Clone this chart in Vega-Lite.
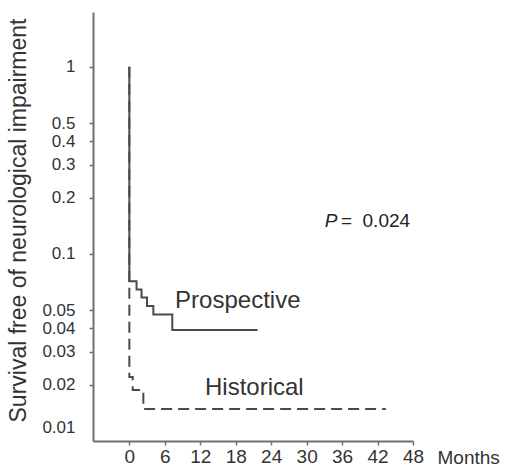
{
  "$schema": "https://vega.github.io/schema/vega-lite/v6.json",
  "width": 320,
  "height": 429,
  "autosize": {"type": "none"},
  "padding": {"left": 93, "top": 12, "right": 104, "bottom": 26},
  "background": "white",
  "config": {
    "view": {"stroke": null},
    "axis": {
      "grid": false,
      "domainColor": "#707070",
      "domainWidth": 2,
      "tickColor": "#707070",
      "tickWidth": 1.5,
      "tickSize": 4,
      "labelColor": "#333333",
      "labelFont": "Liberation Sans Narrow, Liberation Sans",
      "labelFontSize": 19,
      "titleColor": "#333333",
      "titleFont": "Liberation Sans",
      "titleFontWeight": "normal"
    }
  },
  "datasets": {
    "curves": [
      {"series": "Historical", "i": 1, "t": 0, "s": 1},
      {"series": "Historical", "i": 2, "t": 0, "s": 0.02195},
      {"series": "Historical", "i": 3, "t": 0.57, "s": 0.01873},
      {"series": "Historical", "i": 4, "t": 2.37, "s": 0.01484},
      {"series": "Historical", "i": 5, "t": 43.4, "s": 0.01484},
      {"series": "Prospective", "i": 1, "t": 0, "s": 1},
      {"series": "Prospective", "i": 2, "t": 0, "s": 0.0713},
      {"series": "Prospective", "i": 3, "t": 1.22, "s": 0.0644},
      {"series": "Prospective", "i": 4, "t": 2.06, "s": 0.0584},
      {"series": "Prospective", "i": 5, "t": 2.99, "s": 0.0526},
      {"series": "Prospective", "i": 6, "t": 4.06, "s": 0.0474},
      {"series": "Prospective", "i": 7, "t": 7.27, "s": 0.0392},
      {"series": "Prospective", "i": 8, "t": 21.7, "s": 0.0392}
    ],
    "labels": [
      {"label": "Prospective", "t": 7.74, "s": 0.0511},
      {"label": "Historical", "t": 12.8, "s": 0.01762}
    ],
    "pItalic": [{"label": "P", "t": 33.07, "s": 0.1386}],
    "pValue": [{"label": "= \u00a00.024", "t": 35.8, "s": 0.1386}]
  },
  "encoding": {
    "x": {
      "field": "t",
      "type": "quantitative",
      "scale": {"domain": [-6.15, 48], "nice": false, "zero": false},
      "axis": {
        "values": [0, 6, 12, 18, 24, 30, 36, 42, 48],
        "labelPadding": 2,
        "labelFlush": false,
        "labelOverlap": false,
        "title": "Months",
        "titleFontSize": 19,
        "titleAnchor": null,
        "titleAlign": "left",
        "titleBaseline": "alphabetic",
        "titleX": 344,
        "titleY": 22
      }
    },
    "y": {
      "field": "s",
      "type": "quantitative",
      "scale": {"type": "log", "domain": [0.01, 1.96], "nice": false, "zero": false},
      "axis": {
        "values": [0.01, 0.02, 0.03, 0.04, 0.05, 0.1, 0.2, 0.3, 0.4, 0.5, 1],
        "format": "~g",
        "labelFontSize": 17,
        "labelPadding": 14,
        "labelOverlap": false,
        "labelFlush": false,
        "labelBound": false,
        "labelOffset": {"condition": {"test": "datum.value < 0.011", "value": -14}, "value": 0},
        "tickOpacity": {"condition": {"test": "datum.value < 0.011", "value": 0}, "value": 1},
        "title": "Survival free of neurological impairment",
        "titleFontSize": 23,
        "titleAngle": -90,
        "titleAnchor": null,
        "titleAlign": "center",
        "titleBaseline": "alphabetic",
        "titleX": -68,
        "titleY": 208
      }
    }
  },
  "layer": [
    {
      "data": {"name": "curves"},
      "transform": [{"filter": "datum.series === 'Historical'"}],
      "mark": {"type": "line", "interpolate": "step-after", "color": "#4a4a4a", "strokeWidth": 2, "strokeDash": [11, 6]},
      "encoding": {"order": {"field": "i", "type": "quantitative"}}
    },
    {
      "data": {"name": "curves"},
      "transform": [{"filter": "datum.series === 'Prospective'"}],
      "mark": {"type": "line", "interpolate": "step-after", "color": "#4a4a4a", "strokeWidth": 2},
      "encoding": {"order": {"field": "i", "type": "quantitative"}}
    },
    {
      "data": {"name": "labels"},
      "mark": {"type": "text", "align": "left", "baseline": "alphabetic", "font": "Liberation Sans", "fontSize": 24, "color": "#333333"},
      "encoding": {"text": {"field": "label"}}
    },
    {
      "data": {"name": "pItalic"},
      "mark": {"type": "text", "align": "left", "baseline": "alphabetic", "font": "Liberation Sans", "fontSize": 19, "fontStyle": "italic", "color": "#222222"},
      "encoding": {"text": {"field": "label"}}
    },
    {
      "data": {"name": "pValue"},
      "mark": {"type": "text", "align": "left", "baseline": "alphabetic", "font": "Liberation Sans", "fontSize": 19, "color": "#222222"},
      "encoding": {"text": {"field": "label"}}
    }
  ]
}
